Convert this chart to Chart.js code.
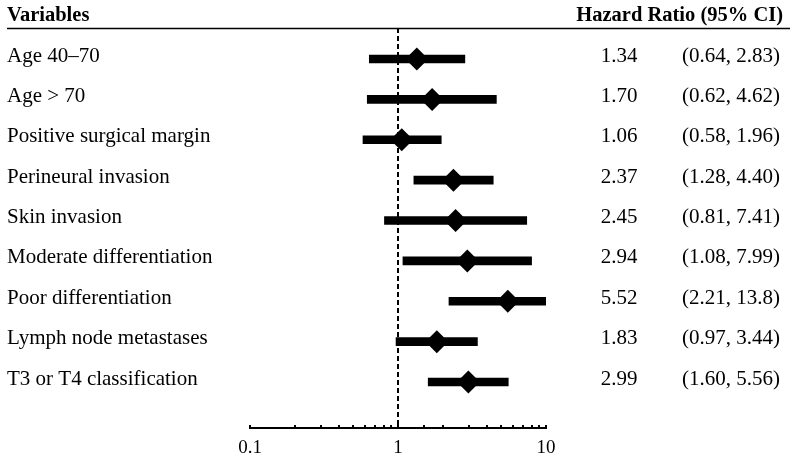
<!DOCTYPE html>
<html>
<head>
<meta charset="utf-8">
<script src="https://cdn.jsdelivr.net/npm/chart.js@4/dist/chart.umd.min.js"></script>
<style>
  html, body { margin: 0; padding: 0; background: #fff; }
  #wrap { width: 795px; height: 460px; }
</style>
</head>
<body>
<div id="wrap"><canvas id="c" width="795" height="460"></canvas></div>
<script>
const variables = [
  'Age 40\u201370',
  'Age > 70',
  'Positive surgical margin',
  'Perineural invasion',
  'Skin invasion',
  'Moderate differentiation',
  'Poor differentiation',
  'Lymph node metastases',
  'T3 or T4 classification'
];
const hazardRatios = [1.34, 1.70, 1.06, 2.37, 2.45, 2.94, 5.52, 1.83, 2.99];
const ciLower = [0.64, 0.62, 0.58, 1.28, 0.81, 1.08, 2.21, 0.97, 1.60];
const ciUpper = [2.83, 4.62, 1.96, 4.40, 7.41, 7.99, 13.8, 3.44, 5.56];
const hrLabels = ['1.34', '1.70', '1.06', '2.37', '2.45', '2.94', '5.52', '1.83', '2.99'];
const ciLabels = ['(0.64, 2.83)', '(0.62, 4.62)', '(0.58, 1.96)', '(1.28, 4.40)', '(0.81, 7.41)',
                  '(1.08, 7.99)', '(2.21, 13.8)', '(0.97, 3.44)', '(1.60, 5.56)'];
const xTickLabels = [0.1, 1, 10];
const referenceValue = 1;
const headerLeft = 'Variables';
const headerRight = 'Hazard Ratio (95% CI)';

const SERIF = '"Liberation Serif", "Times New Roman", serif';
const rowIdx = variables.map((_, i) => i);
const Y_MIN = -0.768, Y_MAX = 9.139;

function rowAxis(position, labels, width, weight, align) {
  return {
    type: 'linear', position: position, reverse: true, min: Y_MIN, max: Y_MAX,
    offset: false, bounds: 'data', grace: 0,
    weight: weight,
    grid: { display: false, drawTicks: false, offset: false },
    border: { display: false },
    ticks: {
      autoSkip: false, crossAlign: align, padding: 0, labelOffset: -3,
      color: '#000', font: { family: SERIF, size: 21 },
      callback: (v) => labels[v] !== undefined ? labels[v] : ''
    },
    afterBuildTicks: (s) => { s.ticks = rowIdx.map(i => ({ value: i })); },
    afterFit: (s) => { s.width = width; }
  };
}

const forestDecor = {
  id: 'forestDecor',
  beforeDatasetsDraw(chart) {
    const { ctx, chartArea, scales } = chart;
    const x = scales.x.getPixelForValue(referenceValue);
    ctx.save();
    ctx.strokeStyle = '#000';
    ctx.lineWidth = 2;
    ctx.setLineDash([5, 3]);
    ctx.beginPath();
    ctx.moveTo(x, chartArea.top);
    ctx.lineTo(x, chartArea.bottom);
    ctx.stroke();
    ctx.restore();
  },
  afterDraw(chart) {
    const { ctx, chartArea } = chart;
    ctx.save();
    ctx.fillStyle = '#000';
    ctx.font = 'bold 20.5px ' + SERIF;
    ctx.textBaseline = 'alphabetic';
    ctx.textAlign = 'left';
    ctx.fillText(headerLeft, 7, 21);
    ctx.textAlign = 'right';
    ctx.fillText(headerRight, 783, 21);
    ctx.strokeStyle = '#000';
    ctx.lineWidth = 1.5;
    ctx.beginPath();
    ctx.moveTo(7, chartArea.top + 0.5);
    ctx.lineTo(790, chartArea.top + 0.5);
    ctx.stroke();
    ctx.restore();
  }
};

new Chart(document.getElementById('c'), {
  data: {
    datasets: [
      {
        type: 'scatter',
        order: 0,
        xAxisID: 'x', yAxisID: 'y',
        data: hazardRatios.map((v, i) => ({ x: v, y: i })),
        pointStyle: 'rectRot',
        pointRadius: 11.5,
        pointHoverRadius: 11.5,
        backgroundColor: '#000',
        borderColor: '#000',
        borderWidth: 0
      },
      {
        type: 'bar',
        order: 1,
        indexAxis: 'y',
        xAxisID: 'x', yAxisID: 'y',
        data: ciLower.map((lo, i) => ({ x: [lo, ciUpper[i]], y: i })),
        backgroundColor: '#000',
        borderWidth: 0,
        barThickness: 8
      }
    ]
  },
  options: {
    responsive: false,
    animation: false,
    events: [],
    layout: { padding: { left: 7, right: 15, top: 28, bottom: 0 } },
    plugins: { legend: { display: false }, tooltip: { enabled: false }, title: { display: false } },
    scales: {
      x: {
        type: 'logarithmic', axis: 'x', position: 'bottom', min: 0.1, max: 10,
        grid: { display: true, drawOnChartArea: false, drawTicks: true, tickLength: -3, color: '#000', lineWidth: 2 },
        border: { display: true, color: '#000', width: 2 },
        ticks: {
          autoSkip: false, maxRotation: 0, padding: 12, color: '#000',
          font: { family: SERIF, size: 19 },
          callback: (v) => {
            const hit = xTickLabels.find(t => Math.abs(t - v) < 1e-9);
            return hit !== undefined ? String(hit) : '';
          }
        },
        afterFit: (s) => { s.height = 32; }
      },
      y: Object.assign(rowAxis('left', variables, 243, 0, 'far'), { axis: 'y' }),
      yHR: rowAxis('right', hrLabels, 91.5, 0, 'far'),
      yCI: rowAxis('right', ciLabels, 142.5, 1, 'far')
    }
  },
  plugins: [forestDecor]
});
</script>
</body>
</html>
